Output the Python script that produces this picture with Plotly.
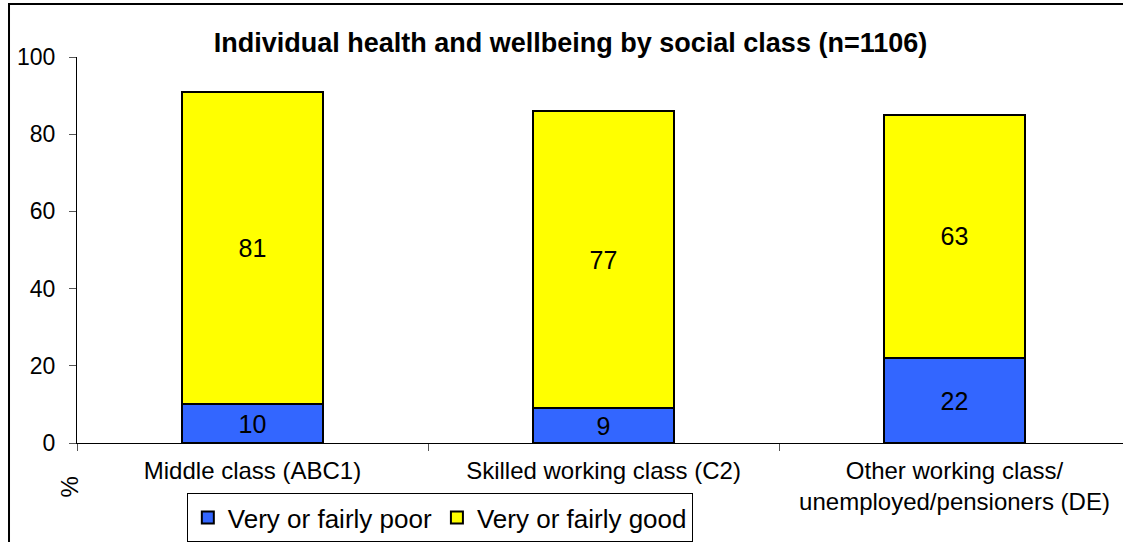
import plotly.graph_objects as go

# --- Datos ---
clases = ["Middle class (ABC1)", "Skilled working class (C2)",
          "Other working class/<br>unemployed/pensioners (DE)"]
poor = [10, 9, 22]
good = [81, 77, 63]

fuente = "Arial, Liberation Sans, sans-serif"

fig = go.Figure()

fig.add_trace(go.Bar(
    x=clases, y=poor, name="Very or fairly poor",
    marker_color="#3366FF", marker_line_color="#000000", marker_line_width=2,
    text=poor, textposition="inside", insidetextanchor="middle",
    textfont=dict(size=25, color="#000000"), constraintext="none",
))
fig.add_trace(go.Bar(
    x=clases, y=good, name="Very or fairly good",
    marker_color="#FFFF00", marker_line_color="#000000", marker_line_width=2,
    text=good, textposition="inside", insidetextanchor="middle",
    textfont=dict(size=25, color="#000000"), constraintext="none",
))

# borde exterior del gráfico
fig.add_shape(type="rect", xref="paper", yref="paper",
              x0=-0.065, x1=1.05, y0=-0.4, y1=1.137,
              line=dict(color="#000000", width=2), fillcolor="rgba(0,0,0,0)")

# título del eje Y abajo a la izquierda
fig.add_annotation(text="%", xref="paper", yref="paper", x=-0.0067, y=-0.113,
                   xanchor="center", yanchor="middle",
                   textangle=-90, showarrow=False, font=dict(size=24, color="#000000"))

fig.update_layout(
    width=1123, height=542,
    barmode="stack", bargap=0.6,
    paper_bgcolor="white", plot_bgcolor="white",
    font=dict(family=fuente, color="#000000"),
    title=dict(text="<b>Individual health and wellbeing by social class (n=1106)</b>",
               x=0.508, xanchor="center", y=0.921, yanchor="middle",
               font=dict(size=27, color="#000000")),
    margin=dict(l=77, r=0, t=57, b=99),
    xaxis=dict(range=[-0.5, 2.48], showline=True, linecolor="#000000", linewidth=1,
               ticks="outside", tickson="boundaries", ticklen=7, tickcolor="#555555",
               tickfont=dict(size=24), showgrid=False, ticklabelstandoff=6),
    yaxis=dict(range=[0, 100], dtick=20, showline=True, linecolor="#000000", linewidth=1,
               ticks="outside", ticklen=7, tickcolor="#555555",
               tickfont=dict(size=23), showgrid=False, zeroline=False,
               ticklabelstandoff=9),
    legend=dict(orientation="h", x=0.105, y=-0.13, xanchor="left", yanchor="top",
                bordercolor="#000000", borderwidth=1, font=dict(size=26),
                traceorder="normal", itemwidth=30),
)

fig.write_html("out.html", config={"displayModeBar": False},
               post_script="document.body.style.margin='0';")
